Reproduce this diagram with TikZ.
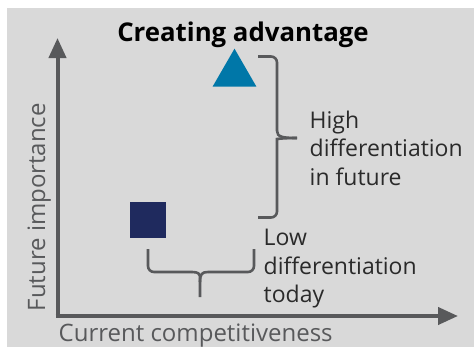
\documentclass[tikz,border=0pt]{standalone}
\usepackage{fontspec}
\setmainfont{Open Sans}
\usetikzlibrary{arrows.meta,shapes.geometric}
\definecolor{panel}{HTML}{D9D9D9}
\definecolor{axisgray}{HTML}{58595B}
\definecolor{tealblue}{HTML}{0077A8}
\definecolor{navy}{HTML}{1F2A5E}
\definecolor{labeltext}{HTML}{2A2A2A}
\tikzset{
  axis/.style={axisgray, line width=4pt, -{Triangle[length=20pt,width=17pt]}},
  bracket/.style={axisgray, line width=2.6pt, rounded corners=6pt},
  label/.style={align=left, anchor=north west, inner sep=0pt, text=labeltext,
    font=\fontsize{23}{28.4}\selectfont},
  axislabel/.style={inner sep=0pt, text=axisgray, font=\fontsize{24}{28}\selectfont},
}
\begin{document}
\begin{tikzpicture}[x=1pt,y=-1pt]
  \useasboundingbox (0,0) rectangle (474,349);
  \fill[white] (0,0) rectangle (474,349);
  \fill[panel] (7,8) rectangle (474,347);

  % title
  \node[font=\fontsize{25.8}{30}\selectfont\bfseries, inner sep=0pt, anchor=base] (title) at (243,41.7) {Creating advantage};

  % axes
  \coordinate (origin) at (57.5,316);
  \coordinate (ytip) at (57.5,38);
  \coordinate (xtip) at (458,316);
  \draw[axis] ([yshift=2pt]origin) -- (ytip);
  \draw[axis] ([xshift=-2pt]origin) -- (xtip);
  \node[axislabel, anchor=base west] (xlabel) at (58.5,341.7) {Current competitiveness};
  \node[axislabel, rotate=90, anchor=base west] (ylabel) at (45,311.5) {Future importance};

  % markers
  \node[fill=tealblue, isosceles triangle, isosceles triangle apex angle=60,
        shape border rotate=90, inner sep=0pt, minimum height=38pt] (tri) at (234.5,74) {};
  \node[fill=navy, minimum size=36pt, inner sep=0pt] (sq) at (148,220) {};

  % brace on the right
  \draw[bracket] (258,56.5) -- (277,56.5) -- (277,131);
  \draw[bracket] (277,131) .. controls (277,137) and (283,138) .. (297,138);
  \draw[bracket] (297,138) .. controls (283,138) and (277,139) .. (277,145) -- (277,217.5) -- (258,217.5);

  % brace below
  \draw[bracket] (148,249) -- (148,272) -- (192,272);
  \draw[bracket] (192,272) .. controls (198,272) and (200,274) .. (200,282) -- (200,297);
  \draw[bracket] (254,249) -- (254,272) -- (208,272);
  \draw[bracket] (208,272) .. controls (202,272) and (200,274) .. (200,282);

  % labels
  \node[label] (high) at (309.5,110.8) {High\\differentiation\\in future};
  \node[label] (low) at (263.5,229.2) {Low\\differentiation\\today};
\end{tikzpicture}
\end{document}
